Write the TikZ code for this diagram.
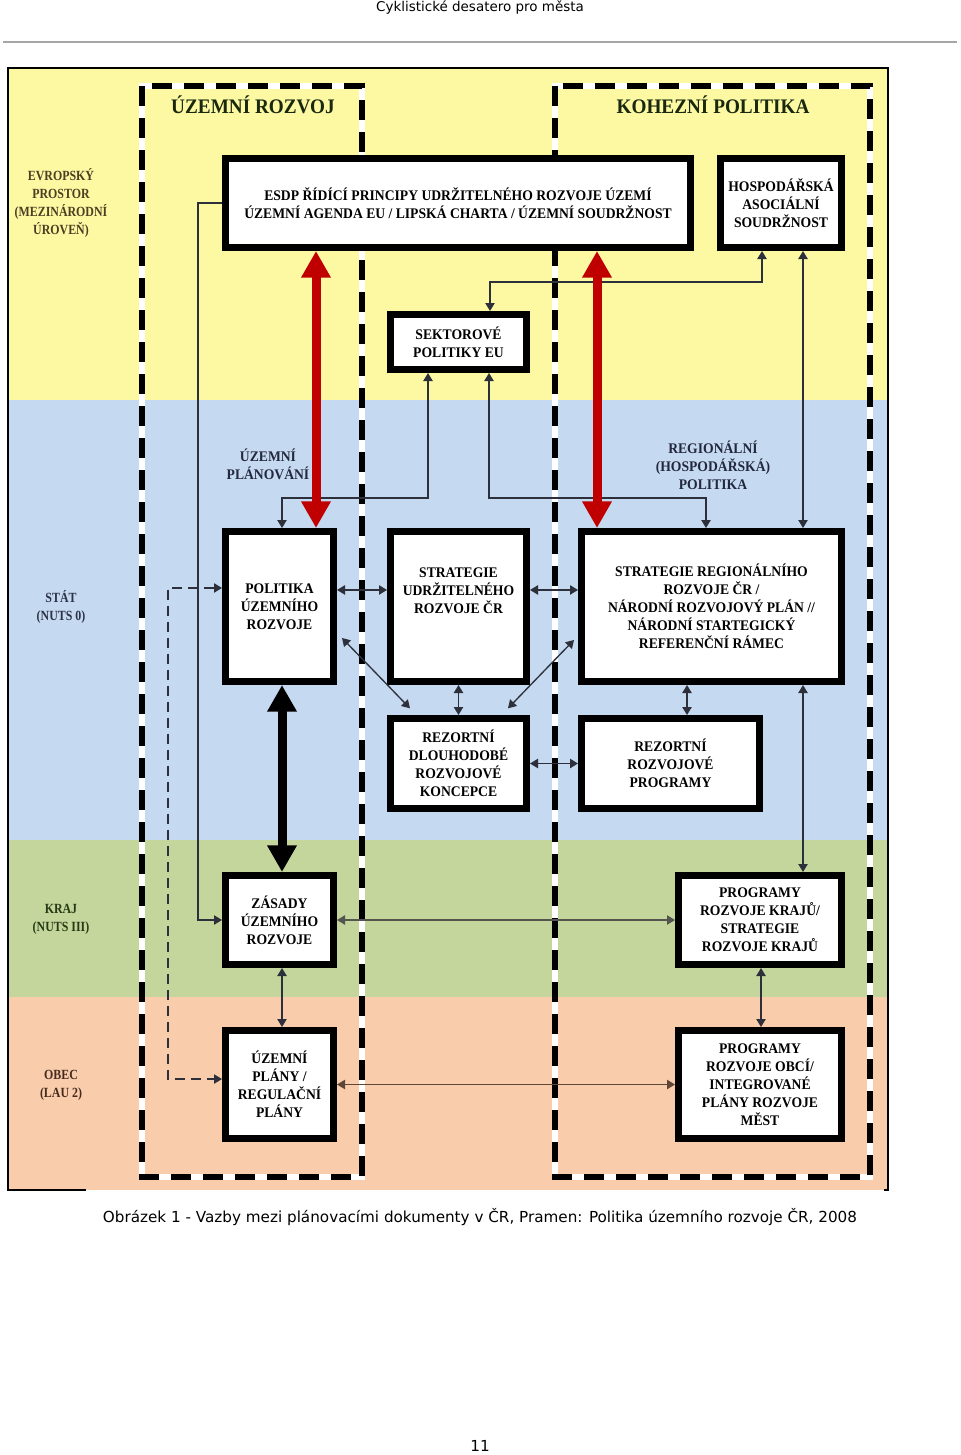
\documentclass[tikz,border=0pt]{standalone}
\usepackage{fontspec}
\setmainfont{Liberation Serif}
\newfontfamily\boxfont[FakeStretch=0.93]{Liberation Serif}
\newfontfamily\levelfont[FakeStretch=0.85]{Liberation Serif}
\newfontfamily\pagefont{DejaVu Sans}
\usetikzlibrary{arrows.meta}
\definecolor{pasEU}{RGB}{252,249,162}
\definecolor{pasStat}{RGB}{197,217,240}
\definecolor{pasKraj}{RGB}{196,214,155}
\definecolor{pasObec}{RGB}{249,205,172}
\definecolor{cervena}{RGB}{192,0,0}
\definecolor{sipka}{RGB}{45,48,58}
\definecolor{sipkaSeda}{RGB}{85,85,80}
\definecolor{sipkaHneda}{RGB}{95,70,55}
\definecolor{txtEU}{RGB}{75,62,35}
\definecolor{txtStat}{RGB}{45,50,72}
\definecolor{txtKraj}{RGB}{38,58,22}
\definecolor{txtObec}{RGB}{70,42,30}
\definecolor{txtOblast}{RGB}{35,40,62}
\definecolor{txtNadpis}{RGB}{25,40,15}
\begin{document}
\begin{tikzpicture}[x=0.75pt, y=-0.75pt, >={Triangle[length=6pt,width=7pt]},
		dokument/.style={draw, line width=5.25pt, fill=white, inner sep=0pt, outer sep=2.625pt, align=center, font=\boxfont\bfseries\fontsize{11}{13.5}\selectfont},
		uroven/.style={align=center, font=\levelfont\bfseries\fontsize{10.5}{13.5}\selectfont},
		oblast/.style={align=center, text=txtOblast, font=\boxfont\bfseries\fontsize{11}{13.5}\selectfont},
		sloupec/.style={align=center, text=txtNadpis, font=\boxfont\bfseries\fontsize{15.5}{18}\selectfont},
		vazba/.style={draw=sipka, line width=1pt, <->},
		tlusta/.style={line width=6.75pt, {Triangle[length=20pt,width=21pt]}-{Triangle[length=20pt,width=21pt]}},
		strana/.style={font=\pagefont\fontsize{11.4}{13}\selectfont}]
	\useasboundingbox (0,0) rectangle (960,1455);
	\node[font=\pagefont\fontsize{10.1}{12}\selectfont] (zahlavi) at (480,8) {Cyklistické desatero pro města};
	\draw[gray!70, line width=1pt] (3,42) -- (957,42);
	\fill[pasEU] (8,68) rectangle (888,400);
	\fill[pasStat] (8,400) rectangle (888,840);
	\fill[pasKraj] (8,840) rectangle (888,997);
	\fill[pasObec] (8,997) rectangle (888,1190);
	\draw[line width=1.1pt] (86,1190) -- (8,1190) -- (8,68) -- (888,68) -- (888,1190) -- (884,1190);
	\foreach \xa/\xb in {142/362, 555/870} {
		\draw[white, line width=5pt] (\xa,86) rectangle (\xb,1177);
		\draw[line width=5pt, dash pattern=on 15pt off 9pt] (\xa,86) rectangle (\xb,1177);
	}
	\node[sloupec] (nadpisUR) at (253,105) {ÚZEMNÍ ROZVOJ};
	\node[sloupec] (nadpisKP) at (713,105) {KOHEZNÍ POLITIKA};
	\node[uroven, text=txtEU] (evropa) at (61,203) {EVROPSKÝ\\PROSTOR\\(MEZINÁRODNÍ\\ÚROVEŇ)};
	\node[uroven, text=txtStat] (stat) at (61,607) {STÁT\\(NUTS 0)};
	\node[uroven, text=txtKraj] (kraj) at (61,919) {KRAJ\\(NUTS III)};
	\node[uroven, text=txtObec] (obec) at (61,1085) {OBEC\\(LAU 2)};
	\node[oblast] (planovani) at (268,464) {ÚZEMNÍ\\PLÁNOVÁNÍ};
	\node[oblast] (regpol) at (713,465) {REGIONÁLNÍ\\(HOSPODÁŘSKÁ)\\POLITIKA};
	\node[dokument, minimum width=348.75pt, minimum height=66.75pt] (esdp) at (458,203) {ESDP ŘÍDÍCÍ PRINCIPY UDRŽITELNÉHO ROZVOJE ÚZEMÍ\\ÚZEMNÍ AGENDA EU / LIPSKÁ CHARTA / ÚZEMNÍ SOUDRŽNOST};
	\node[dokument, minimum width=90.75pt, minimum height=66.75pt] (soudrznost) at (781,203) {HOSPODÁŘSKÁ\\ASOCIÁLNÍ\\SOUDRŽNOST};
	\node[dokument, minimum width=102pt, minimum height=41.25pt] (sektor) at (458.5,342) {SEKTOROVÉ\\POLITIKY EU};
	\node[dokument, minimum width=81pt, minimum height=112.5pt] (pur) at (279.5,606.5) {POLITIKA\\ÚZEMNÍHO\\ROZVOJE};
	\node[dokument, minimum width=102pt, minimum height=112.5pt] (sur) at (458.5,606.5) {STRATEGIE\\UDRŽITELNÉHO\\ROZVOJE ČR\\[9.7pt]\mbox{}};
	\node[dokument, minimum width=195pt, minimum height=112.5pt] (srr) at (711.5,606.5) {STRATEGIE REGIONÁLNÍHO\\ROZVOJE ČR /\\NÁRODNÍ ROZVOJOVÝ PLÁN //\\NÁRODNÍ STARTEGICKÝ\\REFERENČNÍ RÁMEC};
	\node[dokument, minimum width=102pt, minimum height=67.5pt] (koncepce) at (458.5,763.5) {REZORTNÍ\\DLOUHODOBÉ\\ROZVOJOVÉ\\KONCEPCE};
	\node[dokument, minimum width=133.5pt, minimum height=67.5pt] (programy) at (670.5,763.5) {REZORTNÍ\\ROZVOJOVÉ\\PROGRAMY};
	\node[dokument, minimum width=81pt, minimum height=66.75pt] (zur) at (279.5,920) {ZÁSADY\\ÚZEMNÍHO\\ROZVOJE};
	\node[dokument, minimum width=81pt, minimum height=81pt] (up) at (279.5,1084.5) {ÚZEMNÍ\\PLÁNY /\\REGULAČNÍ\\PLÁNY};
	\node[dokument, minimum width=122.25pt, minimum height=66.75pt] (prk) at (760,920) {PROGRAMY\\ROZVOJE KRAJŮ/\\STRATEGIE\\ROZVOJE KRAJŮ};
	\node[dokument, minimum width=122.25pt, minimum height=81pt] (pro) at (760,1084.5) {PROGRAMY\\ROZVOJE OBCÍ/\\INTEGROVANÉ\\PLÁNY ROZVOJE\\MĚST};
	\draw[vazba] (soudrznost.south -| 762,0) -- ++(0,31) -| (sektor.north -| 490,0);
	\draw[vazba] (sektor.south -| 428,0) -- ++(0,125) -| (pur.north -| 282,0);
	\draw[vazba] (sektor.south -| 489,0) -- ++(0,125) -| (srr.north -| 706,0);
	\draw[vazba] (soudrznost.south -| 803,0) -- (srr.north -| 803,0);
	\draw[vazba] (srr.south -| 803,0) -- (prk.north -| 803,0);
	\draw[draw=sipka, line width=1pt, ->] (esdp.west) -- ++(-24,0) |- (zur.west);
	\draw[vazba, dash pattern=on 7.5pt off 4.5pt] ([yshift=13.9pt]pur.west) -- ++(-54,0) |- ([yshift=4.1pt]up.west);
	\draw[vazba] ([yshift=12.4pt]pur.east) -- ([yshift=12.4pt]sur.west);
	\draw[vazba] ([yshift=12.4pt]sur.east) -- ([yshift=12.4pt]srr.west);
	\draw[vazba] ([xshift=3.75pt,yshift=-23.6pt]pur.east) -- ([xshift=-36.4pt,yshift=5pt]koncepce.north);
	\draw[vazba] ([xshift=-3pt,yshift=-25.1pt]srr.west) -- ([xshift=37.1pt,yshift=5pt]koncepce.north);
	\draw[vazba] (sur.south) -- (koncepce.north);
	\draw[vazba] (srr.south -| 687,0) -- (programy.north -| 687,0);
	\draw[vazba] (koncepce.east) -- (programy.west);
	\draw[vazba] (zur.south -| 282,0) -- (up.north -| 282,0);
	\draw[vazba] (prk.south -| 761,0) -- (pro.north -| 761,0);
	\draw[vazba, draw=sipkaSeda] (zur.east) -- (prk.west);
	\draw[vazba, draw=sipkaHneda] (up.east) -- (pro.west);
	\draw[tlusta, cervena] (esdp.south -| 316,0) -- (pur.north -| 316,0);
	\draw[tlusta, cervena] (esdp.south -| 597,0) -- (srr.north -| 597,0);
	\draw[tlusta] (pur.south -| 282,0) -- (zur.north -| 282,0);
	\node[strana] (popisek) at (480,1217) {Obrázek 1 - Vazby mezi plánovacími dokumenty v ČR, Pramen: Politika územního rozvoje ČR, 2008};
	\node[strana] (cislo) at (480,1446) {11};
\end{tikzpicture}
\end{document}
